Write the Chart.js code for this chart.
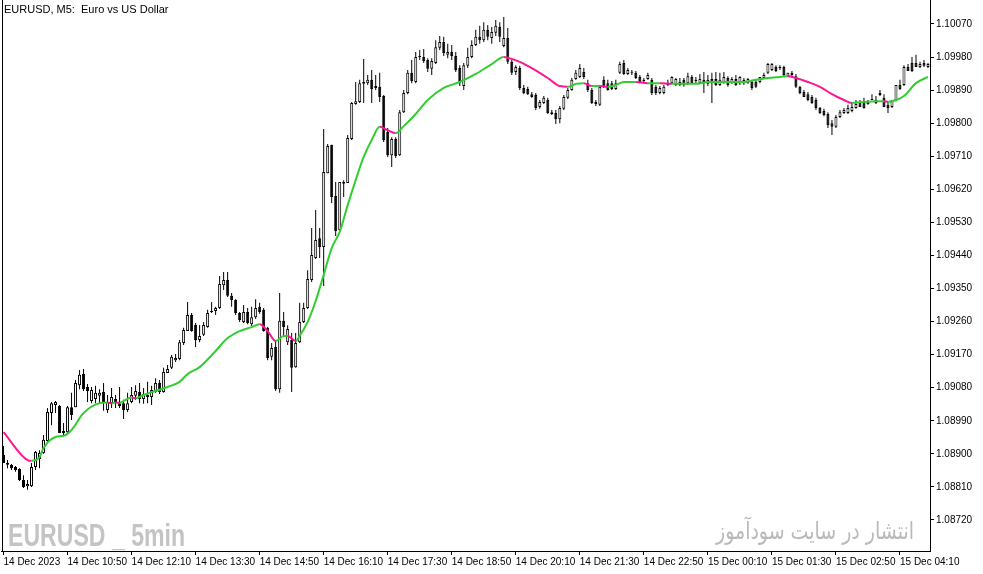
<!DOCTYPE html>
<html>
<head>
<meta charset="utf-8">
<script src="https://cdn.jsdelivr.net/npm/chart.js@4.4.0/dist/chart.umd.min.js"></script>
<style>
  html, body { margin: 0; padding: 0; background: #ffffff; }
</style>
</head>
<body>
<canvas id="eurusdChart" width="983" height="574"></canvas>
<script>
// EURUSD M5 candles, one entry per bar
const opens = [
  1.08897,1.08875,1.08870,1.08864,1.08859,1.08829,1.08812,1.08812,1.08864,1.08886,1.08902,1.08935,
  1.09011,1.09033,1.09030,1.08957,1.08959,1.09027,1.09027,1.09087,1.09117,1.09082,1.09044,1.09049,
  1.09058,1.09068,1.09019,1.09038,1.09049,1.09038,1.09038,1.09019,1.09041,1.09058,1.09068,1.09049,
  1.09055,1.09055,1.09068,1.09093,1.09068,1.09120,1.09134,1.09155,1.09158,1.09202,1.09234,1.09278,
  1.09251,1.09210,1.09224,1.09245,1.09286,1.09289,1.09297,1.09359,1.09373,1.09330,1.09319,1.09283,
  1.09259,1.09286,1.09253,1.09272,1.09300,1.09292,1.09243,1.09164,1.09191,1.09076,1.09262,1.09204,
  1.09210,1.09136,1.09204,1.09259,1.09297,1.09373,1.09433,1.09487,1.09463,1.09664,1.09741,1.09602,
  1.09509,1.09635,1.09637,1.09757,1.09852,1.09858,1.09912,1.09909,1.09918,1.09901,1.09899,1.09874,
  1.09776,1.09713,1.09757,1.09713,1.09830,1.09882,1.09937,1.09912,1.09980,1.09980,1.09972,1.09948,
  1.09964,1.10005,1.10021,1.09986,1.09994,1.09983,1.09950,1.09901,1.09956,1.09980,1.10013,1.10035,
  1.10026,1.10054,1.10032,1.10046,1.10062,1.10010,1.10032,1.09967,1.09939,1.09950,1.09896,1.09893,
  1.09879,1.09877,1.09844,1.09855,1.09863,1.09830,1.09828,1.09811,1.09839,1.09869,1.09890,1.09920,
  1.09926,1.09939,1.09909,1.09890,1.09858,1.09850,1.09918,1.09909,1.09909,1.09893,1.09937,1.09964,
  1.09934,1.09939,1.09937,1.09926,1.09918,1.09920,1.09918,1.09899,1.09882,1.09882,1.09904,1.09909,
  1.09904,1.09912,1.09918,1.09909,1.09926,1.09918,1.09909,1.09918,1.09918,1.09920,1.09920,1.09904,
  1.09912,1.09923,1.09909,1.09920,1.09909,1.09918,1.09909,1.09912,1.09912,1.09912,1.09923,1.09937,
  1.09945,1.09953,1.09950,1.09953,1.09928,1.09937,1.09928,1.09899,1.09885,1.09879,1.09871,1.09863,
  1.09841,1.09833,1.09825,1.09800,1.09790,1.09817,1.09828,1.09828,1.09833,1.09841,1.09855,1.09858,
  1.09852,1.09866,1.09863,1.09877,1.09869,1.09850,1.09844,1.09863,1.09904,1.09904,1.09953,1.09964,
  1.09964,1.09953,1.09964,1.09953
];
const highs = [
  1.08921,1.08883,1.08872,1.08867,1.08861,1.08842,1.08829,1.08875,1.08908,1.08910,1.08951,1.09025,
  1.09041,1.09044,1.09033,1.08984,1.09030,1.09066,1.09101,1.09128,1.09131,1.09090,1.09082,1.09085,
  1.09076,1.09093,1.09060,1.09079,1.09060,1.09082,1.09047,1.09066,1.09082,1.09087,1.09093,1.09079,
  1.09096,1.09085,1.09106,1.09101,1.09134,1.09142,1.09169,1.09172,1.09210,1.09243,1.09313,1.09283,
  1.09256,1.09251,1.09259,1.09292,1.09313,1.09300,1.09384,1.09395,1.09395,1.09338,1.09321,1.09286,
  1.09305,1.09297,1.09300,1.09321,1.09311,1.09297,1.09245,1.09202,1.09210,1.09338,1.09286,1.09250,
  1.09229,1.09229,1.09311,1.09311,1.09400,1.09515,1.09564,1.09515,1.09784,1.09743,1.09741,1.09640,
  1.09640,1.09645,1.09768,1.09858,1.09912,1.09918,1.09975,1.09931,1.09945,1.09931,1.09937,1.09877,
  1.09787,1.09762,1.09762,1.09836,1.09890,1.09945,1.09972,1.09994,1.09999,1.10002,1.09977,1.09977,
  1.10026,1.10037,1.10035,1.10016,1.10013,1.09994,1.09958,1.09964,1.10005,1.10026,1.10054,1.10065,
  1.10075,1.10067,1.10062,1.10081,1.10075,1.10089,1.10059,1.09972,1.09958,1.09956,1.09904,1.09899,
  1.09885,1.09882,1.09863,1.09874,1.09869,1.09836,1.09836,1.09847,1.09877,1.09896,1.09923,1.09945,
  1.09961,1.09950,1.09918,1.09896,1.09863,1.09904,1.09928,1.09918,1.09915,1.09918,1.09967,1.09972,
  1.09950,1.09945,1.09942,1.09931,1.09923,1.09937,1.09923,1.09904,1.09901,1.09904,1.09918,1.09928,
  1.09923,1.09923,1.09923,1.09937,1.09931,1.09926,1.09934,1.09939,1.09931,1.09937,1.09939,1.09937,
  1.09939,1.09928,1.09926,1.09931,1.09928,1.09923,1.09923,1.09918,1.09920,1.09926,1.09937,1.09964,
  1.09964,1.09958,1.09958,1.09956,1.09937,1.09942,1.09934,1.09901,1.09890,1.09885,1.09877,1.09869,
  1.09844,1.09839,1.09830,1.09809,1.09822,1.09836,1.09841,1.09850,1.09855,1.09863,1.09863,1.09869,
  1.09863,1.09879,1.09874,1.09890,1.09879,1.09855,1.09863,1.09904,1.09918,1.09958,1.09961,1.09980,
  1.09986,1.09967,1.09972,1.09964
];
const lows = [
  1.08875,1.08861,1.08856,1.08851,1.08826,1.08807,1.08802,1.08810,1.08856,1.08861,1.08900,1.08929,
  1.08978,1.09011,1.08957,1.08948,1.08954,1.08992,1.09027,1.09076,1.09071,1.09041,1.09038,1.09038,
  1.09038,1.09017,1.09011,1.09025,1.09025,1.09025,1.08995,1.09014,1.09038,1.09047,1.09038,1.09036,
  1.09038,1.09033,1.09066,1.09063,1.09066,1.09120,1.09131,1.09150,1.09155,1.09196,1.09234,1.09232,
  1.09191,1.09204,1.09221,1.09243,1.09283,1.09278,1.09294,1.09346,1.09327,1.09300,1.09278,1.09259,
  1.09256,1.09253,1.09248,1.09267,1.09281,1.09232,1.09155,1.09155,1.09071,1.09066,1.09218,1.09196,
  1.09068,1.09134,1.09202,1.09256,1.09294,1.09368,1.09430,1.09433,1.09357,1.09664,1.09583,1.09493,
  1.09506,1.09599,1.09637,1.09754,1.09850,1.09855,1.09855,1.09904,1.09855,1.09890,1.09858,1.09749,
  1.09708,1.09681,1.09705,1.09711,1.09828,1.09879,1.09909,1.09909,1.09972,1.09964,1.09939,1.09931,
  1.09961,1.09999,1.09983,1.09977,1.09972,1.09939,1.09901,1.09890,1.09950,1.09977,1.10010,1.10016,
  1.10021,1.10026,1.10016,1.10037,1.10021,1.10007,1.09961,1.09931,1.09931,1.09890,1.09879,1.09877,
  1.09869,1.09836,1.09839,1.09852,1.09825,1.09822,1.09798,1.09800,1.09836,1.09866,1.09888,1.09918,
  1.09923,1.09920,1.09885,1.09852,1.09847,1.09847,1.09896,1.09888,1.09890,1.09890,1.09934,1.09931,
  1.09931,1.09931,1.09920,1.09909,1.09909,1.09918,1.09877,1.09877,1.09879,1.09879,1.09901,1.09907,
  1.09901,1.09901,1.09899,1.09904,1.09907,1.09909,1.09907,1.09882,1.09901,1.09855,1.09901,1.09901,
  1.09907,1.09899,1.09907,1.09901,1.09904,1.09904,1.09907,1.09890,1.09896,1.09909,1.09920,1.09934,
  1.09942,1.09939,1.09945,1.09928,1.09926,1.09928,1.09896,1.09879,1.09871,1.09860,1.09852,1.09836,
  1.09825,1.09819,1.09787,1.09768,1.09787,1.09814,1.09825,1.09825,1.09830,1.09839,1.09844,1.09839,
  1.09850,1.09863,1.09852,1.09874,1.09844,1.09828,1.09841,1.09860,1.09890,1.09901,1.09942,1.09939,
  1.09953,1.09950,1.09953,1.09950
];
const closes = [
  1.08875,1.08870,1.08861,1.08856,1.08829,1.08810,1.08818,1.08864,1.08905,1.08902,1.08938,1.09014,
  1.09038,1.09041,1.08957,1.08962,1.09027,1.09006,1.09093,1.09115,1.09076,1.09071,1.09074,1.09066,
  1.09066,1.09041,1.09041,1.09055,1.09038,1.09030,1.09019,1.09038,1.09060,1.09071,1.09049,1.09063,
  1.09060,1.09074,1.09093,1.09068,1.09123,1.09131,1.09164,1.09161,1.09204,1.09237,1.09278,1.09234,
  1.09210,1.09221,1.09251,1.09283,1.09289,1.09297,1.09362,1.09373,1.09330,1.09319,1.09283,1.09264,
  1.09286,1.09256,1.09272,1.09297,1.09286,1.09234,1.09161,1.09188,1.09076,1.09262,1.09245,1.09240,
  1.09134,1.09202,1.09259,1.09297,1.09376,1.09441,1.09482,1.09463,1.09667,1.09738,1.09599,1.09506,
  1.09640,1.09640,1.09760,1.09855,1.09860,1.09909,1.09907,1.09918,1.09893,1.09896,1.09871,1.09754,
  1.09713,1.09757,1.09711,1.09830,1.09882,1.09937,1.09915,1.09980,1.09980,1.09969,1.09948,1.09969,
  1.10007,1.10021,1.09991,1.09994,1.09983,1.09945,1.09909,1.09958,1.09980,1.10013,1.10035,1.10026,
  1.10054,1.10035,1.10048,1.10065,1.10035,1.10032,1.09967,1.09937,1.09953,1.09896,1.09882,1.09879,
  1.09871,1.09841,1.09858,1.09869,1.09828,1.09825,1.09811,1.09841,1.09871,1.09890,1.09918,1.09937,
  1.09950,1.09926,1.09890,1.09855,1.09852,1.09899,1.09899,1.09890,1.09893,1.09909,1.09961,1.09934,
  1.09945,1.09937,1.09923,1.09912,1.09915,1.09931,1.09882,1.09882,1.09896,1.09899,1.09909,1.09926,
  1.09920,1.09904,1.09904,1.09928,1.09909,1.09915,1.09920,1.09912,1.09907,1.09909,1.09904,1.09918,
  1.09926,1.09904,1.09920,1.09904,1.09926,1.09909,1.09920,1.09896,1.09899,1.09926,1.09931,1.09961,
  1.09961,1.09942,1.09950,1.09931,1.09937,1.09931,1.09899,1.09882,1.09871,1.09863,1.09855,1.09841,
  1.09828,1.09822,1.09795,1.09790,1.09817,1.09830,1.09836,1.09841,1.09844,1.09852,1.09844,1.09841,
  1.09858,1.09863,1.09855,1.09882,1.09844,1.09841,1.09863,1.09904,1.09893,1.09953,1.09942,1.09942,
  1.09953,1.09961,1.09956,1.09961
];

// moving average, read at these bars
const maBars = [0,6,7,9,10,13,15,17,20,24,26,27,28,29,30,32,33,35,37,41,44,46,49,53,56,59,62,64,66,68,
  70,71,73,74,76,78,80,82,84,86,88,90,92,94,96,98,100,103,106,110,114,118,122,125,126,129,132,136,139,141,
  143,145,147,149,151,153,155,158,161,164,167,170,173,176,180,185,188,191,194,196,198,201,204,207,210,
  212,215,218,220,221,223,225,228,231];
const maValues = [1.08959,1.08883,1.08881,1.08891,1.08916,1.08946,1.08949,1.08965,1.09011,1.09038,1.09040,
  1.09037,1.09040,1.09038,1.09044,1.09053,1.09051,1.09060,1.09068,1.09082,1.09096,1.09117,1.09136,1.09180,
  1.09215,1.09234,1.09245,1.09253,1.09234,1.09207,1.09221,1.09221,1.09207,1.09221,1.09259,1.09316,1.09387,
  1.09460,1.09504,1.09577,1.09645,1.09708,1.09754,1.09790,1.09781,1.09773,1.09792,1.09825,1.09863,1.09896,
  1.09912,1.09934,1.09961,1.09980,1.09978,1.09967,1.09950,1.09923,1.09901,1.09899,1.09907,1.09909,1.09901,
  1.09901,1.09899,1.09904,1.09912,1.09912,1.09909,1.09909,1.09907,1.09907,1.09907,1.09912,1.09912,1.09912,
  1.09918,1.09923,1.09926,1.09928,1.09923,1.09912,1.09899,1.09879,1.09863,1.09855,1.09858,1.09860,1.09860,
  1.09858,1.09863,1.09874,1.09909,1.09926];

const timeLabels = ['14 Dec 2023','14 Dec 10:50','14 Dec 12:10','14 Dec 13:30','14 Dec 14:50',
  '14 Dec 16:10','14 Dec 17:30','14 Dec 18:50','14 Dec 20:10','14 Dec 21:30','14 Dec 22:50',
  '15 Dec 00:10','15 Dec 01:30','15 Dec 02:50','15 Dec 04:10'];
const barsPerLabel = 16;
const priceTicks = [1.10070,1.09980,1.09890,1.09800,1.09710,1.09620,1.09530,1.09440,1.09350,
  1.09260,1.09170,1.09080,1.08990,1.08900,1.08810,1.08720];
const priceMin = 1.086355;
const priceMax = 1.101353;

const titleText = 'EURUSD, M5:  Euro vs US Dollar';
const markLeft = 'EURUSD _ 5min';
const markRight = 'انتشار در سایت سودآموز';

const maUp = '#32cd32';
const maDown = '#ff1493';
const axisFont = { family: '"Liberation Sans", Arial, sans-serif', size: 10 };

const barIndex = opens.map((o, i) => i);
const wicks = lows.map((l, i) => [l, highs[i]]);
const bodies = opens.map((o, i) => [o, closes[i]]);
const bodyFill = opens.map((o, i) => closes[i] < o ? '#000000' : '#ffffff');
const maLine = opens.map(() => null);
maBars.forEach((b, k) => { maLine[b] = maValues[k]; });

// colour of the MA between two read points: pink when it falls
function maColor(ctx) {
  const k = maBars.findIndex(b => b >= ctx.p1DataIndex);
  if (k <= 0) return maUp;
  return maValues[k] < maValues[k - 1] ? maDown : maUp;
}

const decorations = {
  id: 'decorations',
  beforeDatasetsDraw(chart) {
    const ctx = chart.ctx;
    ctx.save();
    ctx.fillStyle = '#c4c4c4';
    ctx.font = 'bold 32px "Liberation Sans Narrow", "Liberation Sans", sans-serif';
    ctx.textBaseline = 'alphabetic';
    let w = ctx.measureText(markLeft).width;
    ctx.translate(8, 546);
    ctx.scale(177 / w, 1);
    ctx.fillText(markLeft, 0, 0);
    ctx.restore();

    ctx.save();
    ctx.fillStyle = '#b9b9b9';
    ctx.font = '24px "DejaVu Sans", sans-serif';
    ctx.direction = 'rtl';
    ctx.textAlign = 'right';
    ctx.textBaseline = 'alphabetic';
    w = ctx.measureText(markRight).width;
    ctx.translate(914, 539);
    ctx.scale(198 / w, 1);
    ctx.fillText(markRight, 0, 0);
    ctx.restore();
  },
  afterDraw(chart) {
    const ctx = chart.ctx;
    ctx.save();
    ctx.fillStyle = '#000000';
    ctx.fillRect(2, 0, 1, 552);
    ctx.font = '11px "Liberation Sans", Arial, sans-serif';
    ctx.textBaseline = 'alphabetic';
    ctx.fillText(titleText, 4, 13);
    ctx.restore();
  }
};

var eurusdChart = new Chart(
  document.getElementById('eurusdChart'),
  {
    data: {
      labels: barIndex,
      datasets: [
        {
          type: 'line',
          label: 'MA',
          data: maLine,
          order: 0,
          spanGaps: true,
          borderWidth: 2,
          borderColor: maUp,
          pointRadius: 0,
          cubicInterpolationMode: 'monotone',
          segment: { borderColor: maColor }
        },
        {
          type: 'bar',
          label: 'body',
          data: bodies,
          order: 1,
          grouped: false,
          backgroundColor: bodyFill,
          borderColor: '#000000',
          borderWidth: 1,
          borderSkipped: false,
          barThickness: 3,
          minBarLength: 1,
          inflateAmount: 0
        },
        {
          type: 'bar',
          label: 'wick',
          data: wicks,
          order: 2,
          grouped: false,
          backgroundColor: '#000000',
          borderWidth: 0,
          barThickness: 1,
          inflateAmount: 0
        }
      ]
    },
    options: {
      responsive: false,
      animation: false,
      layout: { padding: { left: 1.5, right: 0, top: 0, bottom: 0 } },
      plugins: {
        legend: { display: false },
        tooltip: { enabled: false }
      },
      scales: {
        x: {
          type: 'category',
          offset: true,
          grid: { drawOnChartArea: false, offset: false, tickLength: 4, color: '#000000' },
          border: { display: true, color: '#000000' },
          ticks: {
            autoSkip: false,
            maxRotation: 0,
            align: 'start',
            padding: 1,
            color: '#000000',
            font: axisFont,
            callback: v => timeLabels[v / barsPerLabel]
          },
          afterBuildTicks: s => { s.ticks = s.ticks.filter(t => t.value % barsPerLabel === 0); },
          afterFit: s => { s.height = 23; s.paddingLeft = 0; s.paddingRight = 0; }
        },
        y: {
          position: 'right',
          min: priceMin,
          max: priceMax,
          grid: { drawOnChartArea: false, tickLength: 4, color: '#000000' },
          border: { display: true, color: '#000000' },
          ticks: {
            padding: 2,
            color: '#000000',
            font: axisFont,
            callback: v => v.toFixed(5)
          },
          afterBuildTicks: s => { s.ticks = priceTicks.map(v => ({ value: v })); },
          afterFit: s => { s.width = 53; s.paddingTop = 0; s.paddingBottom = 0; }
        }
      }
    },
    plugins: [decorations]
  }
);
</script>
</body>
</html>
